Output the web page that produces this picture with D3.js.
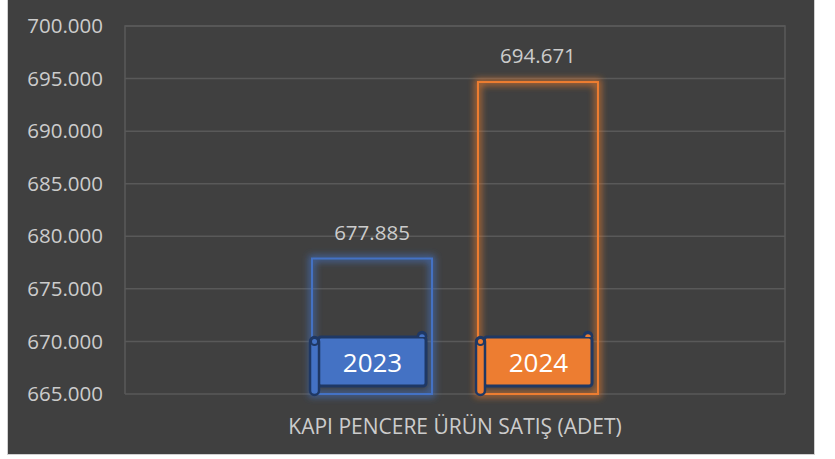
<!DOCTYPE html>
<html>
<head>
<meta charset="utf-8">
<script src="https://cdn.jsdelivr.net/npm/d3@7"></script>
<style>
  body { margin: 0; background: #fff; }
  text { font-family: "Open Sans", "Noto Sans", sans-serif; }
</style>
</head>
<body>
<div id="chart"></div>
<script>
var category = 'KAPI PENCERE ÜRÜN SATIŞ (ADET)';
var years = ['2023', '2024'];
var sales = [677885, 694671];
var colors = ['#4472C4', '#ED7D31'];
var yTicks = [665000, 670000, 675000, 680000, 685000, 690000, 695000, 700000];

var w = 835, h = 459;
var margin = { left: 125, right: 50, top: 26, bottom: 65 };

var tr = d3.formatLocale({ decimal: ',', thousands: '.', grouping: [3], currency: ['', ' TL'] });
var fmt = tr.format(',.0f');

var svg = d3.select('#chart').append('svg')
  .attr('width', w)
  .attr('height', h);

// glow filter
var defs = svg.append('defs');
var glow = defs.append('filter').attr('id', 'glow')
  .attr('x', '-20%').attr('y', '-20%').attr('width', '140%').attr('height', '140%');
glow.append('feGaussianBlur').attr('stdDeviation', 3.5);

// chart background
svg.append('rect')
  .attr('x', 7.5).attr('y', -1)
  .attr('width', 807).attr('height', 455.5)
  .attr('fill', '#404040')
  .attr('stroke', '#d0d0d0')
  .attr('stroke-width', 1);

var y = d3.scaleLinear()
  .domain([665000, 700000])
  .range([h - margin.bottom, margin.top]);

var x0 = d3.scaleBand()
  .domain([category])
  .range([margin.left, w - margin.right])
  .paddingOuter(0.654);

var x1 = d3.scaleBand()
  .domain(years)
  .range([0, x0.bandwidth()])
  .paddingInner(0.277);

// gridlines
svg.append('g')
  .selectAll('line')
  .data(yTicks)
  .enter()
  .append('line')
  .attr('x1', margin.left)
  .attr('x2', w - margin.right)
  .attr('y1', d => y(d))
  .attr('y2', d => y(d))
  .attr('stroke', '#595959')
  .attr('stroke-width', 1.5);

// plot border sides
svg.append('path')
  .attr('d', `M${margin.left},${y(665000)}V${margin.top}H${w - margin.right}V${y(665000)}`)
  .attr('fill', 'none')
  .attr('stroke', '#595959')
  .attr('stroke-width', 1.5);

// y labels
svg.append('g')
  .selectAll('text')
  .data(yTicks)
  .enter()
  .append('text')
  .attr('x', 103)
  .attr('y', d => y(d))
  .attr('dy', '0.35em')
  .attr('text-anchor', 'end')
  .attr('fill', '#cccccc')
  .style('font-size', '20.5px')
  .text(d => fmt(d));

var rows = years.map((yr, i) => ({ year: yr, value: sales[i], color: colors[i] }));

var g = svg.append('g')
  .attr('transform', `translate(${x0(category)},0)`);

// glow behind bars
g.selectAll('rect.glow')
  .data(rows)
  .enter()
  .append('rect')
  .attr('class', 'glow')
  .attr('x', d => x1(d.year))
  .attr('y', d => y(d.value))
  .attr('width', x1.bandwidth())
  .attr('height', d => y(665000) - y(d.value))
  .attr('fill', 'none')
  .attr('stroke', d => d.color)
  .attr('stroke-width', 6)
  .attr('stroke-opacity', 0.7)
  .attr('filter', 'url(#glow)');

g.selectAll('rect.bar')
  .data(rows)
  .enter()
  .append('rect')
  .attr('class', 'bar')
  .attr('x', d => x1(d.year))
  .attr('y', d => y(d.value))
  .attr('width', x1.bandwidth())
  .attr('height', d => y(665000) - y(d.value))
  .attr('fill', 'none')
  .attr('stroke', d => d.color)
  .attr('stroke-width', 2);

// value labels
g.selectAll('text.val')
  .data(rows)
  .enter()
  .append('text')
  .attr('class', 'val')
  .attr('x', d => x1(d.year) + x1.bandwidth() / 2)
  .attr('y', d => y(d.value) - 26)
  .attr('dy', '0.35em')
  .attr('text-anchor', 'middle')
  .attr('fill', '#cccccc')
  .style('font-size', '20.5px')
  .text(d => fmt(d.value));

// scroll shaped year labels
var navy = '#1F3864';
var scroll = g.selectAll('g.scroll')
  .data(rows)
  .enter()
  .append('g')
  .attr('class', 'scroll')
  .attr('transform', d => `translate(${x1(d.year) - 2},${y(665000) - 61})`);

var sw = x1.bandwidth() - 3;

// right top curl
scroll.append('circle')
  .attr('cx', sw - 5).attr('cy', 3).attr('r', 4)
  .attr('fill', d => d.color)
  .attr('stroke', navy).attr('stroke-width', 2.5);

// body
scroll.append('rect')
  .attr('x', 8).attr('y', 4)
  .attr('width', sw - 9).attr('height', 49)
  .attr('rx', 3)
  .attr('fill', d => d.color)
  .attr('stroke', navy).attr('stroke-width', 3);

// right curl inner
scroll.append('path')
  .attr('d', `M${sw - 9},4 A4,4 0 0 1 ${sw - 1},4`)
  .attr('fill', d => d.color)
  .attr('stroke', navy).attr('stroke-width', 2.5);

// left roll
scroll.append('rect')
  .attr('x', 0).attr('y', 4)
  .attr('width', 9).attr('height', 58)
  .attr('rx', 4.5)
  .attr('fill', d => d.color)
  .attr('stroke', navy).attr('stroke-width', 2.5);

scroll.append('circle')
  .attr('cx', 4.5).attr('cy', 8.5).attr('r', 3.5)
  .attr('fill', d => d.color)
  .attr('stroke', navy).attr('stroke-width', 2);

scroll.append('text')
  .attr('x', (sw + 8) / 2)
  .attr('y', 30)
  .attr('dy', '0.35em')
  .attr('text-anchor', 'middle')
  .attr('fill', '#fff')
  .style('font-size', '26px')
  .text(d => d.year);

// category label
svg.append('text')
  .attr('x', x0(category) + x0.bandwidth() / 2)
  .attr('y', 427)
  .attr('dy', '0.35em')
  .attr('text-anchor', 'middle')
  .attr('fill', '#cccccc')
  .style('font-size', '21px')
  .text(category);
</script>
</body>
</html>
